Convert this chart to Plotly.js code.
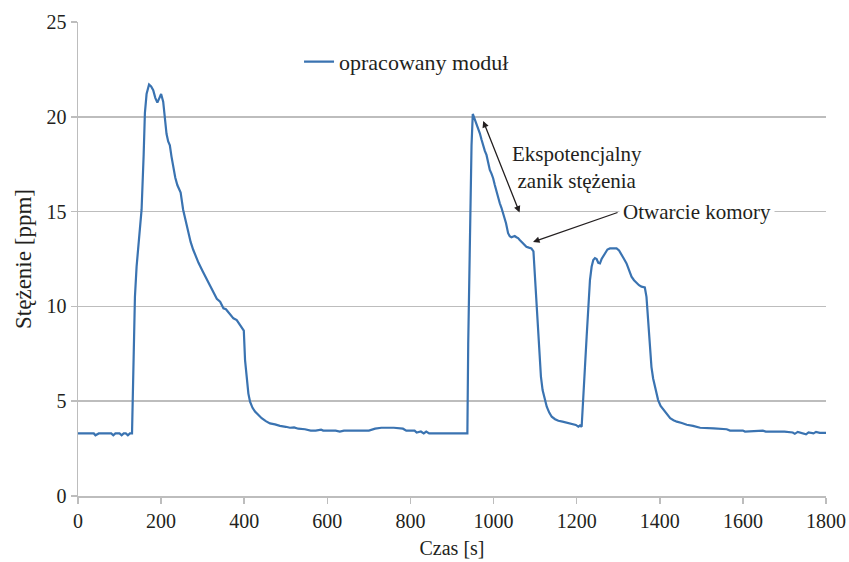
<!DOCTYPE html>
<html>
<head>
<meta charset="utf-8">
<script src="https://cdn.plot.ly/plotly-3.0.1.min.js"></script>
<style>html,body{margin:0;padding:0;background:#fff;}#chart{width:849px;height:562px;}</style>
</head>
<body>
<div id="chart"></div>
<script>
// Czas pomiaru [s]
const czas = [
  0,10,20,30,38,42,50,60,70,80,85,90,100,105,110,115,120,125,130,
  133,137,141,147,153,158,161,165,171,176,181,186,191,196,200,205,209,213,217,221,225,229,234,239,243,247,
  253,259,265,271,277,284,290,300,310,322,334,342,350,356,362,368,374,382,388,394,399,
  402,406,410,414,420,426,434,442,452,462,474,486,500,510,520,530,546,560,572,585,590,620,630,640,700,
  715,730,760,782,790,810,815,825,832,838,845,900,937,
  939,943,947,950,955,959,963,967,971,975,979,983,987,991,995,999,1003,1007,1011,1015,1019,1023,1027,1030,
  1035,1039,1043,1047,1051,1055,1059,1063,1067,1073,1079,1085,1091,1096,
  1100,1104,1110,1114,1118,1123,1128,1134,1140,1148,1156,1166,1176,1184,1192,1198,1204,1208,1212,
  1216,1220,1224,1228,1232,1236,1240,1244,1248,1252,1256,1260,1264,1268,1274,1280,1296,1302,1308,1314,1320,
  1326,1332,1338,1344,1350,1356,1364,1368,1371,1375,1380,1384,1390,1396,1402,1409,1417,1425,1433,1441,
  1453,1465,1480,1497,1530,1561,1569,1600,1605,1640,1648,1655,1700,1720,1725,1732,1745,1752,1758,1770,1776,1785,1800
];

// Stężenie zmierzone przez opracowany moduł [ppm]
const stezenie = [
  3.3,3.3,3.3,3.3,3.3,3.2,3.3,3.3,3.3,3.3,3.2,3.3,3.3,3.2,3.3,3.3,3.2,3.3,3.3,
  6.0,10.5,12.1,13.8,15.1,18.0,20.2,21.2,21.7,21.6,21.4,21.0,20.75,21.0,21.2,20.8,19.8,19.1,18.7,18.5,17.9,17.4,16.8,16.4,16.2,16.0,
  15.1,14.5,13.9,13.4,13.0,12.6,12.3,11.85,11.4,10.9,10.4,10.25,9.9,9.85,9.7,9.5,9.37,9.28,9.1,8.93,8.72,
  7.17,6.12,5.4,4.97,4.65,4.45,4.25,4.1,3.95,3.83,3.78,3.7,3.65,3.6,3.62,3.55,3.52,3.45,3.45,3.5,3.45,3.45,3.4,3.45,3.45,
  3.55,3.6,3.6,3.55,3.45,3.45,3.35,3.4,3.3,3.4,3.3,3.3,3.3,
  8.0,14.0,18.5,20.15,19.85,19.66,19.4,19.13,18.8,18.43,18.2,17.99,17.6,17.2,17.0,16.76,16.4,16.05,15.8,15.44,15.2,14.91,14.6,14.39,
  13.86,13.7,13.65,13.7,13.71,13.65,13.6,13.5,13.42,13.3,13.15,13.1,13.06,12.9,
  11.39,9.46,7.35,6.3,5.59,5.1,4.71,4.4,4.18,4.05,3.97,3.92,3.87,3.83,3.8,3.75,3.66,3.72,3.65,
  5.0,6.82,8.4,9.98,11.39,12.09,12.45,12.55,12.5,12.3,12.27,12.5,12.65,12.8,13.0,13.06,13.06,12.95,12.75,12.5,12.27,
  11.9,11.57,11.38,11.22,11.12,11.04,11.0,10.5,9.5,7.9,6.8,6.2,5.6,5.06,4.75,4.54,4.3,4.1,4.0,3.92,
  3.85,3.76,3.7,3.6,3.57,3.52,3.45,3.45,3.4,3.42,3.45,3.4,3.4,3.35,3.28,3.38,3.32,3.25,3.35,3.3,3.38,3.33,3.33
];

const nazwaSerii = 'opracowany moduł';
const tytulX = 'Czas [s]';
const tytulY = 'Stężenie [ppm]';
const opisZaniku = 'Ekspotencjalny<br>zanik stężenia';
const opisOtwarcia = 'Otwarcie komory';

// Odcinek zaniku wykładniczego (dwustronna strzałka) i punkt otwarcia komory
const zanikStart = [975, 19.78];
const zanikKoniec = [1064, 14.87];
const otwarciePunkt = [1095, 13.4];
const otwarcieOpis = [1302, 14.98];

const fontFam = 'Liberation Serif, Times New Roman, DejaVu Serif, serif';
const ink = '#231f20';
const gray = '#bdbdbd';

const trace = {
  x: czas, y: stezenie, type: 'scatter', mode: 'lines', name: nazwaSerii,
  line: {color: '#3a73b1', width: 2.2}
};

const layout = {
  width: 849, height: 562,
  margin: {l: 78, r: 23, t: 22, b: 66},
  paper_bgcolor: '#fff', plot_bgcolor: '#fff',
  font: {family: fontFam, size: 19, color: ink},
  showlegend: true,
  legend: {x: 0.2955, y: 0.916, xanchor: 'left', yanchor: 'middle', bgcolor: 'rgba(0,0,0,0)',
           font: {family: fontFam, size: 22, color: ink}},
  xaxis: {
    range: [0, 1800], tickvals: [0,200,400,600,800,1000,1200,1400,1600,1800],
    showgrid: false, zeroline: false, showline: true, linecolor: gray, linewidth: 1.5,
    ticks: 'outside', ticklen: 6, tickcolor: gray, tickwidth: 1.5,
    tickfont: {family: fontFam, size: 20, color: ink},
    title: {text: tytulX, font: {family: fontFam, size: 20, color: ink}, standoff: 10}
  },
  yaxis: {
    range: [0, 25], tickvals: [0,5,10,15,20,25],
    showgrid: true, gridcolor: gray, gridwidth: 1.5, zeroline: false,
    showline: true, linecolor: gray, linewidth: 1.5,
    ticks: 'outside', ticklen: 6, tickcolor: gray, tickwidth: 1.5,
    tickfont: {family: fontFam, size: 20, color: ink},
    title: {text: tytulY, font: {family: fontFam, size: 23, color: ink}, standoff: 8}
  },
  annotations: [
    {x: zanikStart[0], y: zanikStart[1], ax: zanikKoniec[0], ay: zanikKoniec[1],
     xref: 'x', yref: 'y', axref: 'x', ayref: 'y', text: '', showarrow: true,
     arrowside: 'end+start', arrowhead: 2, arrowsize: 1, arrowwidth: 1.3, arrowcolor: ink},
    {x: 1201, y: 17.35, xref: 'x', yref: 'y', text: opisZaniku, showarrow: false,
     font: {family: fontFam, size: 21, color: ink}, align: 'center'},
    {x: otwarciePunkt[0], y: otwarciePunkt[1], ax: otwarcieOpis[0], ay: otwarcieOpis[1],
     xref: 'x', yref: 'y', axref: 'x', ayref: 'y', text: '', showarrow: true,
     arrowhead: 2, arrowsize: 1, arrowwidth: 1.3, arrowcolor: ink},
    {x: otwarcieOpis[0], y: otwarcieOpis[1], xref: 'x', yref: 'y', text: opisOtwarcia, showarrow: false,
     xanchor: 'left', bgcolor: '#fff', borderpad: 3,
     font: {family: fontFam, size: 21, color: ink}}
  ]
};

Plotly.newPlot('chart', [trace], layout, {displayModeBar: false, staticPlot: true});
</script>
</body>
</html>
